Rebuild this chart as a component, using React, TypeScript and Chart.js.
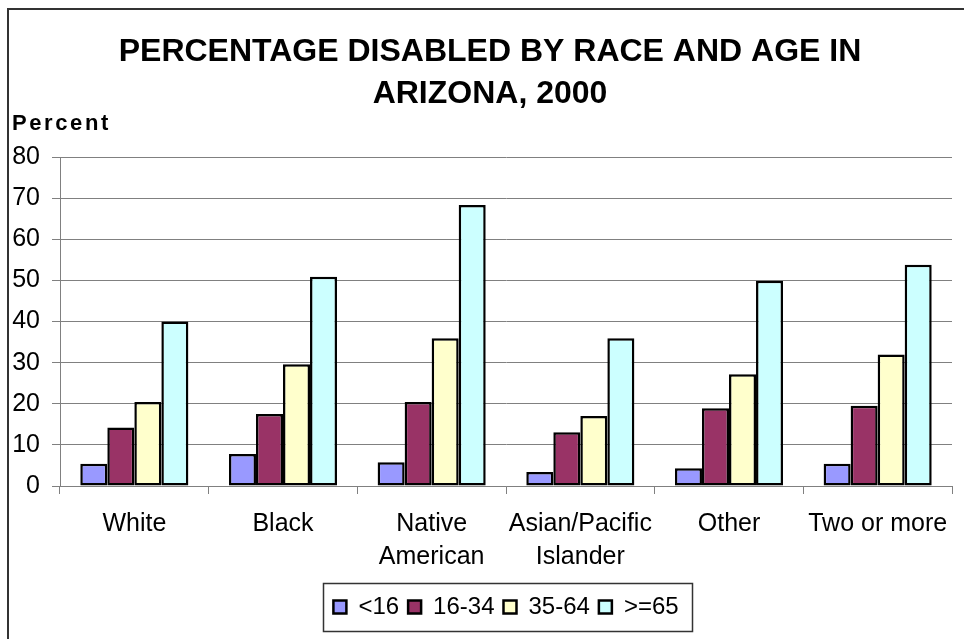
import React, { useEffect, useRef } from "react";
import { Chart, registerables } from "chart.js";

Chart.register(...registerables);

const categories: (string | string[])[] = [
  "White",
  "Black",
  ["Native", "American"],
  ["Asian/Pacific", "Islander"],
  "Other",
  "Two or more",
];
const seriesNames = ["<16", "16-34", "35-64", ">=65"];
const under16 = [5.4, 7.8, 5.8, 3.4, 4.3, 5.4];
const age16to34 = [14.2, 17.5, 20.4, 13.1, 18.9, 19.5];
const age35to64 = [20.4, 29.6, 35.9, 17.0, 27.2, 32.0];
const age65plus = [40.0, 50.9, 68.3, 35.9, 49.9, 53.8];
const seriesColors = ["#9999FF", "#993366", "#FFFFCC", "#CCFFFF"];
const titleLines = ["PERCENTAGE DISABLED BY RACE AND AGE IN", "ARIZONA, 2000"];
const yAxisLabel = "Percent";

const FONT = "'Liberation Sans', Arial, sans-serif";

const extrasPlugin = {
  id: "extras",
  afterDraw(chart: any) {
    const ctx = chart.ctx;
    ctx.save();
    ctx.fillStyle = "#000";
    // title (centred on the outer frame)
    ctx.font = `bold 32px ${FONT}`;
    ctx.textAlign = "center";
    ctx.textBaseline = "alphabetic";
    titleLines.forEach((line, i) => {
      ctx.fillText(line, 490, 61 + i * 42);
    });
    // y-axis label
    ctx.font = `bold 22px ${FONT}`;
    try {
      (ctx as any).letterSpacing = "2.6px";
    } catch (e) {}
    ctx.textAlign = "left";
    ctx.fillText(yAxisLabel, 12, 130);
    try {
      (ctx as any).letterSpacing = "0px";
    } catch (e) {}
    // legend frame
    const legend = chart.legend;
    if (legend && legend.legendHitBoxes && legend.legendHitBoxes.length) {
      const boxes = legend.legendHitBoxes;
      let minL = Infinity, maxR = -Infinity, minT = Infinity, maxB = -Infinity;
      boxes.forEach((b: any) => {
        minL = Math.min(minL, b.left);
        maxR = Math.max(maxR, b.left + b.width);
        minT = Math.min(minT, b.top);
        maxB = Math.max(maxB, b.top + b.height);
      });
      const cy = (minT + maxB) / 2;
      ctx.strokeStyle = "#333";
      ctx.lineWidth = 1.5;
      ctx.strokeRect(Math.round(minL - 10) + 0.5, Math.round(cy - 24) + 0.5, Math.round(maxR - minL + 24), 48);
    }
    ctx.restore();
  },
};

export default function App() {
  const ref = useRef<HTMLCanvasElement | null>(null);
  useEffect(() => {
    if (!ref.current) return;
    const data = [under16, age16to34, age35to64, age65plus];
    const chart = new Chart(ref.current, {
      type: "bar",
      data: {
        labels: categories,
        datasets: seriesNames.map((name, i) => ({
          label: name,
          data: data[i],
          backgroundColor: seriesColors[i],
          borderColor: "#000",
          borderWidth: 2.5,
          borderSkipped: false,
          barPercentage: 1,
          categoryPercentage: 0.727,
        })),
      },
      options: {
        responsive: false,
        animation: false,
        layout: { padding: { top: 157, left: 0, right: 12, bottom: 10 } },
        plugins: {
          title: { display: false },
          legend: {
            display: true,
            position: "bottom",
            fullSize: false,
            labels: {
              color: "#000",
              boxWidth: 13,
              boxHeight: 13,
              padding: 9,
              font: { family: FONT, size: 24 },
            },
          },
          tooltip: { enabled: false },
        },
        scales: {
          x: {
            offset: true,
            grid: {
              offset: true,
              drawOnChartArea: false,
              drawTicks: true,
              tickLength: 8,
              color: "#808080",
            },
            border: { color: "#808080", width: 1 },
            ticks: {
              color: "#000",
              padding: 14,
              maxRotation: 0,
              autoSkip: false,
              font: { family: FONT, size: 25, lineHeight: 1.32 },
            },
            afterFit: (s: any) => {
              s.height = 100;
            },
          },
          y: {
            min: 0,
            max: 80,
            grid: {
              color: "#808080",
              lineWidth: 1,
              tickLength: 8,
            },
            border: { color: "#808080", width: 1 },
            ticks: {
              stepSize: 10,
              color: "#000",
              padding: 12,
              font: { family: FONT, size: 25 },
            },
            afterFit: (s: any) => {
              s.width = 60;
            },
          },
        },
      },
      plugins: [extrasPlugin],
    } as any);
    return () => chart.destroy();
  }, []);

  return (
    <div
      style={{
        position: "fixed",
        left: 0,
        top: 0,
        width: 964,
        height: 639,
        overflow: "hidden",
        background: "#fff",
      }}
    >
      <div
        style={{
          position: "absolute",
          left: 7,
          top: 8,
          width: 1000,
          height: 700,
          borderLeft: "2px solid #333",
          borderTop: "2px solid #333",
        }}
      />
      <canvas
        ref={ref}
        width={964}
        height={639}
        style={{ position: "absolute", left: 0, top: 0, width: 964, height: 639 }}
      />
    </div>
  );
}
